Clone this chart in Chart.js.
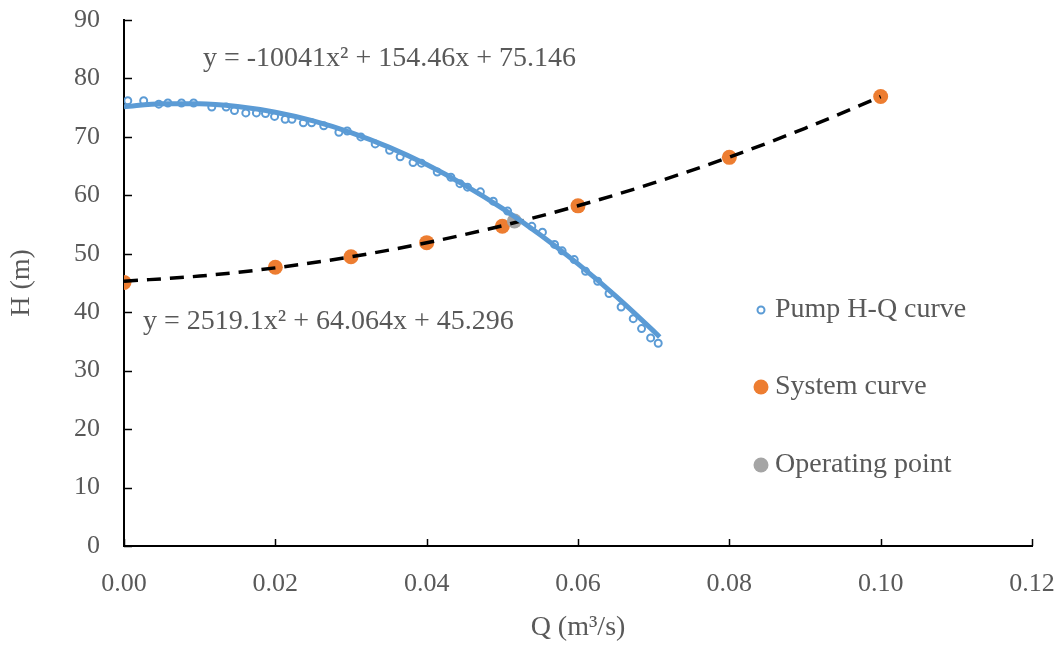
<!DOCTYPE html>
<html>
<head>
<meta charset="utf-8">
<script src="https://cdn.jsdelivr.net/npm/chart.js@4"></script>
<style>
  html, body { margin: 0; padding: 0; background: #fff; overflow: hidden; }
  #wrap { position: relative; width: 1062px; height: 648px; }
</style>
</head>
<body>
<div id="wrap"><canvas id="chart" width="1062" height="648"></canvas></div>
<script>
// measured pump points (Q in m3/s, H in m)
const pumpQ = [0.0005, 0.0026, 0.0046, 0.0058, 0.0076, 0.0092, 0.0116, 0.0135, 0.0146, 0.0161,
  0.0175, 0.0187, 0.0199, 0.0213, 0.0222, 0.0237, 0.0248, 0.0264, 0.0284, 0.0295,
  0.0313, 0.0332, 0.0351, 0.0365, 0.0382, 0.0393, 0.0414, 0.0432, 0.0444, 0.0454,
  0.0471, 0.0488, 0.0507, 0.0539, 0.0553, 0.0569, 0.0579, 0.0595, 0.0610, 0.0626,
  0.0641, 0.0657, 0.0673, 0.0684, 0.0696, 0.0706];
const pumpH = [76.2, 76.2, 75.6, 75.8, 75.8, 75.8, 75.1, 75.1, 74.5, 74.1,
  74.1, 74.0, 73.5, 73.0, 73.0, 72.4, 72.4, 71.9, 70.8, 71.0,
  70.0, 68.8, 67.7, 66.6, 65.6, 65.5, 64.0, 63.1, 62.0, 61.4,
  60.6, 59.0, 57.3, 54.7, 53.7, 51.6, 50.5, 49.0, 47.0, 45.3,
  43.2, 40.9, 38.9, 37.2, 35.6, 34.7];

// pump trendline
const pumpFitQ = [0, 0.005, 0.01, 0.015, 0.02, 0.025, 0.03, 0.035, 0.04, 0.045, 0.05, 0.055, 0.06, 0.065, 0.07, 0.0708];
const pumpFitH = [75.15, 75.67, 75.69, 75.20, 74.22, 72.73, 70.74, 68.25, 65.26, 61.76, 57.77, 53.27, 48.27, 42.76, 36.76, 35.75];

// system curve points
const sysQ = [0, 0.02, 0.03, 0.04, 0.05, 0.06, 0.08, 0.10];
const sysH = [45.1, 47.7, 49.5, 51.9, 54.7, 58.2, 66.5, 76.9];

// system trendline
const sysFitQ = [0, 0.01, 0.02, 0.03, 0.04, 0.05, 0.06, 0.07, 0.08, 0.09, 0.10];
const sysFitH = [45.30, 46.19, 47.59, 49.49, 51.89, 54.80, 58.21, 62.12, 66.54, 71.47, 76.89];

const opQ = [0.0516];
const opH = [55.6];

const xTicks = [0, 0.02, 0.04, 0.06, 0.08, 0.10, 0.12];
const yTicks = [0, 10, 20, 30, 40, 50, 60, 70, 80, 90];

const pumpEq = 'y = -10041x\u00B2 + 154.46x + 75.146';
const sysEq = 'y = 2519.1x\u00B2 + 64.064x + 45.296';

const legendItems = ['Pump H-Q curve', 'System curve', 'Operating point'];

const colors = {
  blue: '#5B9BD5',
  orange: '#ED7D31',
  gray: '#A5A5A5',
  text: '#595959',
  axis: '#000000',
};
const serif = "'Liberation Serif', 'Times New Roman', serif";

const pts = (xs, ys) => xs.map((x, i) => ({ x, y: ys[i] }));

// Excel-style inside tick marks, equations and legend
const extras = {
  id: 'extras',
  afterDraw(chart) {
    const { ctx, scales: { x, y } } = chart;
    ctx.save();
    ctx.strokeStyle = colors.axis;
    ctx.lineWidth = 1.5;
    xTicks.forEach(v => {
      const px = Math.round(x.getPixelForValue(v)) + 0.5;
      ctx.beginPath();
      ctx.moveTo(px, y.bottom);
      ctx.lineTo(px, y.bottom - 7);
      ctx.stroke();
    });
    yTicks.forEach(v => {
      const py = Math.round(y.getPixelForValue(v)) + 0.5;
      ctx.beginPath();
      ctx.moveTo(x.left, py);
      ctx.lineTo(x.left + 8, py);
      ctx.stroke();
    });

    ctx.fillStyle = colors.text;
    ctx.font = '28px ' + serif;
    ctx.textBaseline = 'middle';
    ctx.textAlign = 'left';
    ctx.fillText(pumpEq, 203, 59);
    ctx.fillText(sysEq, 143, 322);

    // legend
    const ly = [310, 387, 465];
    const styles = [
      { r: 3.5, fill: '#fff', stroke: colors.blue, lw: 2 },
      { r: 7.5, fill: colors.orange, stroke: colors.orange, lw: 0 },
      { r: 7.5, fill: colors.gray, stroke: colors.gray, lw: 0 },
    ];
    legendItems.forEach((t, i) => {
      const s = styles[i];
      ctx.beginPath();
      ctx.arc(761, ly[i], s.r, 0, Math.PI * 2);
      ctx.fillStyle = s.fill;
      ctx.fill();
      if (s.lw) {
        ctx.lineWidth = s.lw;
        ctx.strokeStyle = s.stroke;
        ctx.stroke();
      }
      ctx.fillStyle = colors.text;
      ctx.fillText(t, 775, ly[i]);
    });
    ctx.restore();
  }
};

new Chart(document.getElementById('chart'), {
  type: 'scatter',
  data: {
    datasets: [
      {
        label: 'Pump H-Q curve',
        data: pts(pumpQ, pumpH),
        pointStyle: 'circle',
        pointRadius: 3.5,
        pointBackgroundColor: '#fff',
        pointBorderColor: colors.blue,
        pointBorderWidth: 2,
        order: 5,
      },
      {
        label: 'Pump fit',
        data: pts(pumpFitQ, pumpFitH),
        showLine: true,
        pointRadius: 0,
        borderColor: colors.blue,
        borderWidth: 5,
        cubicInterpolationMode: 'monotone',
        order: 1,
      },
      {
        label: 'System curve',
        data: pts(sysQ, sysH),
        pointRadius: 7.5,
        pointBackgroundColor: colors.orange,
        pointBorderColor: colors.orange,
        pointBorderWidth: 0,
        order: 4,
      },
      {
        label: 'System fit',
        data: pts(sysFitQ, sysFitH),
        showLine: true,
        pointRadius: 0,
        borderColor: '#000',
        borderWidth: 3.5,
        borderDash: [14, 9],
        cubicInterpolationMode: 'monotone',
        order: 2,
      },
      {
        label: 'Operating point',
        data: pts(opQ, opH),
        pointRadius: 7.5,
        pointBackgroundColor: colors.gray,
        pointBorderColor: colors.gray,
        pointBorderWidth: 0,
        order: 3,
      },
    ]
  },
  options: {
    responsive: false,
    animation: false,
    devicePixelRatio: 1,
    layout: { padding: { top: 20, right: 30, left: 0, bottom: 0 } },
    plugins: {
      legend: { display: false },
      tooltip: { enabled: false },
    },
    scales: {
      x: {
        type: 'linear',
        min: 0,
        max: 0.12,
        afterBuildTicks: s => { s.ticks = xTicks.map(v => ({ value: v })); },
        afterFit: s => { s.height = 102; s.paddingLeft = 0; s.paddingRight = 0; },
        grid: { display: true, drawOnChartArea: false, drawTicks: false },
        border: { color: colors.axis, width: 2 },
        ticks: {
          color: colors.text,
          font: { family: serif, size: 26 },
          padding: 23,
          callback: v => v.toFixed(2),
        },
        title: {
          display: true,
          text: 'Q (m\u00B3/s)',
          color: colors.text,
          font: { family: serif, size: 28 },
          padding: { top: 6 },
        },
      },
      y: {
        min: 0,
        max: 90,
        afterBuildTicks: s => { s.ticks = yTicks.map(v => ({ value: v })); },
        afterFit: s => { s.width = 124; s.paddingTop = 0; s.paddingBottom = 0; },
        grid: { display: true, drawOnChartArea: false, drawTicks: false },
        border: { color: colors.axis, width: 2 },
        ticks: {
          color: colors.text,
          font: { family: serif, size: 26 },
          padding: 24,
        },
        title: {
          display: true,
          text: 'H (m)',
          color: colors.text,
          font: { family: serif, size: 28 },
          padding: { bottom: 0, top: 5 },
        },
      },
    }
  },
  plugins: [extras],
});
</script>
</body>
</html>
